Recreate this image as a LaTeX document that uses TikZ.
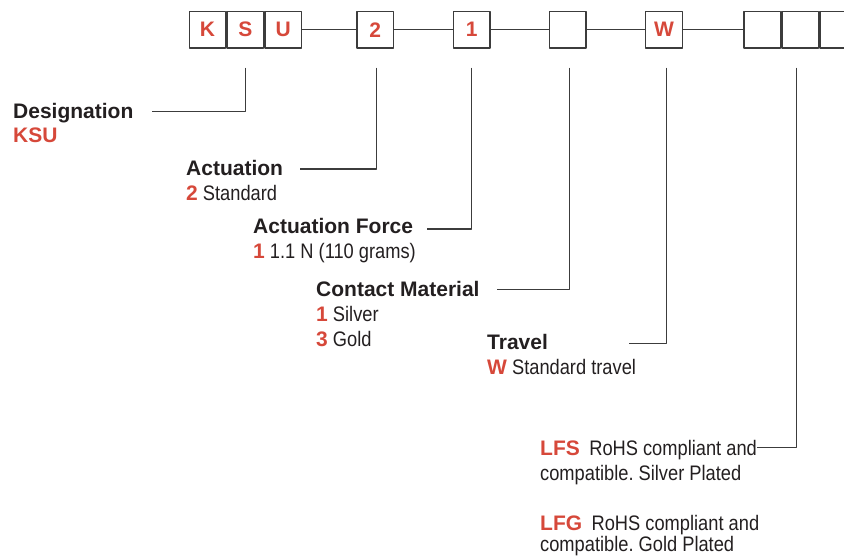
\documentclass[tikz,border=0pt]{standalone}
\usepackage{fontspec}
\setmainfont{Liberation Sans}
\newfontfamily\condfont[FakeStretch=0.87]{Liberation Sans}
\usetikzlibrary{positioning}
\definecolor{codered}{RGB}{214,72,58}
\definecolor{textblack}{RGB}{35,31,32}
\definecolor{linegray}{RGB}{60,60,60}
\newcommand\code[1]{{\normalfont\bfseries\color{codered}#1}}
\frenchspacing

\begin{document}
\begin{tikzpicture}[x=1pt,y=-1pt,line join=bevel,
  cell/.style={draw=linegray,line width=1.4pt,minimum size=36.5pt,inner sep=0pt,
    text=codered,font=\fontsize{21}{25}\selectfont\bfseries},
  head/.style={anchor=base west,inner sep=0pt,text=textblack,
    font=\fontsize{21}{25}\selectfont\bfseries},
  desc/.style={anchor=base west,inner sep=0pt,text=textblack,
    font=\fontsize{21}{25}\selectfont\condfont},
  lead/.style={draw=linegray,line width=1.3pt}]

 \useasboundingbox (0,0) rectangle (844,556);

 % code boxes
 \node (box_0) at (207.5,29.7) [cell] {K};
 \node (box_1) [cell,right=0pt of box_0] {S};
 \node (box_2) [cell,right=0pt of box_1] {U};
 \node (box_3) at (375.3,29.7) [cell] {2};
 \node (box_4) at (471.7,29.7) [cell] {1};
 \node (box_5) at (567.7,29.7) [cell] {};
 \node (box_6) at (664,29.7) [cell] {W};
 \node (box_7) at (762.3,29.7) [cell] {};
 \node (box_8) [cell,right=0pt of box_7] {};
 \node (box_9) [cell,right=0pt of box_8] {};

  \draw [lead] (box_2) -- (box_3);
  \draw [lead] (box_3) -- (box_4);
  \draw [lead] (box_4) -- (box_5);
  \draw [lead] (box_5) -- (box_6);
  \draw [lead] (box_6) -- (box_7);

 % labels
 \node (head_0) at (13,118.3) [head] {Designation};
 \node (desc_0) at (13,142.7) [desc] {\code{KSU}};
 \node (head_1) at (186,176) [head] {Actuation};
 \node (desc_1) at (186,201) [desc] {\code{2} Standard};
 \node (head_2) at (253,234) [head] {Actuation Force};
 \node (desc_2) at (253,258.5) [desc] {\code{1} 1.1 N (110 grams)};
 \node (head_3) at (316,296.7) [head] {Contact Material};
 \node (desc_3) at (316,321.7) [desc] {\code{1} Silver};
 \node (desc_4) at (316,346.7) [desc] {\code{3} Gold};
 \node (head_4) at (487,349.3) [head] {Travel};
 \node (desc_5) at (487,374.3) [desc] {\code{W} Standard travel};
 \node (desc_6) at (540,455) [desc] {\code{LFS}\hspace{0.45em}RoHS compliant and};
 \node (desc_7) at (540,480) [desc] {compatible. Silver Plated};
 \node (desc_8) at (540,530) [desc] {\code{LFG}\hspace{0.45em}RoHS compliant and};
 \node (desc_9) at (540,551.5) [desc] {compatible. Gold Plated};

 % leader ends
 \coordinate (end_0) at (152,111.7);
 \coordinate (end_1) at (300,169);
 \coordinate (end_2) at (426.7,229);
 \coordinate (end_3) at (496.7,289.3);
 \coordinate (end_4) at (629.3,343.3);
 \coordinate (end_5) at (757,447.7);

  \draw [lead] ([yshift=-19pt]box_1.south) |- (end_0);
  \draw [lead] ([xshift=1.5pt,yshift=-19pt]box_3.south) |- (end_1);
  \draw [lead] ([yshift=-19pt]box_4.south) |- (end_2);
  \draw [lead] ([xshift=2pt,yshift=-19pt]box_5.south) |- (end_3);
  \draw [lead] ([xshift=2.5pt,yshift=-19pt]box_6.south) |- (end_4);
  \draw [lead] ([xshift=-3.5pt,yshift=-19pt]box_8.south) |- (end_5);

\end{tikzpicture}
\end{document}
